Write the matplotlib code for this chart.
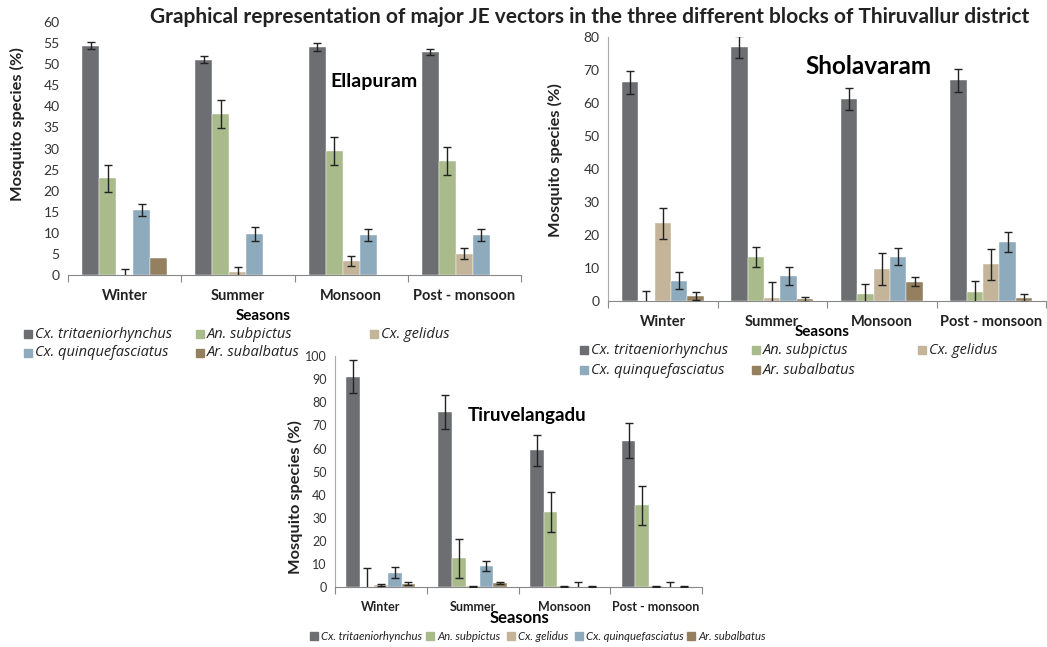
import matplotlib
matplotlib.use('Agg')
import matplotlib.pyplot as plt
import numpy as np
from matplotlib.patches import Rectangle

plt.rcParams['font.family'] = ['Lato', 'DejaVu Sans']

W, H = 1047, 647

seasons = ['Winter', 'Summer', 'Monsoon', 'Post - monsoon']
species = ['Cx. tritaeniorhynchus', 'An. subpictus', 'Cx. gelidus',
           'Cx. quinquefasciatus', 'Ar. subalbatus']
colors = ['#6d6e72', '#a9ba8b', '#c4b49a', '#8eaabd', '#94805e']

nan = np.nan

# Ellapuram
ella_ct = [54.4, 51.1, 54.1, 52.9]
ella_as = [23.0, 38.2, 29.4, 27.1]
ella_cg = [0.0, 0.6, 3.3, 5.0]
ella_cq = [15.4, 9.7, 9.5, 9.5]
ella_ar = [4.0, 0.0, 0.0, 0.0]
ella_ct_err = [0.8, 0.9, 1.0, 0.8]
ella_as_err = [3.2, 3.3, 3.3, 3.3]
ella_cg_err = [1.4, 1.4, 1.1, 1.3]
ella_cq_err = [1.5, 1.6, 1.5, 1.5]
ella_ar_err = [nan, nan, nan, nan]

# Sholavaram
shol_ct = [66.3, 77.0, 61.3, 66.9]
shol_as = [0.0, 13.4, 2.1, 2.7]
shol_cg = [23.6, 0.8, 9.8, 11.1]
shol_cq = [6.2, 7.5, 13.4, 17.9]
shol_ar = [1.5, 0.5, 5.8, 0.8]
shol_ct_err = [3.4, 3.3, 3.3, 3.4]
shol_as_err = [3.0, 3.0, 3.0, 3.3]
shol_cg_err = [4.7, 4.9, 4.8, 4.7]
shol_cq_err = [2.6, 2.7, 2.6, 2.9]
shol_ar_err = [1.3, 0.8, 1.4, 1.2]

# Tiruvelangadu
tiru_ct = [91.1, 75.9, 59.2, 63.4]
tiru_as = [0.0, 12.5, 32.6, 35.4]
tiru_cg = [1.0, 0.4, 0.4, 0.4]
tiru_cq = [6.3, 9.2, 0.0, 0.0]
tiru_ar = [1.6, 2.0, 0.3, 0.3]
tiru_ct_err = [7.3, 7.4, 6.8, 7.5]
tiru_as_err = [8.5, 8.4, 8.7, 8.6]
tiru_cg_err = [0.4, 0.2, 0.1, 0.1]
tiru_cq_err = [2.4, 2.2, 2.4, 2.4]
tiru_ar_err = [0.6, 0.5, 0.1, 0.1]


def fx(x):
    return x / W


def fy(y):
    return 1 - y / H


def draw_panel(ax, values, errors, ymax, ystep, show_left, tick_fs, label_fs):
    x = np.arange(len(seasons))
    w = 0.15
    for i, (vals, errs) in enumerate(zip(values, errors)):
        xs = x + (i - 2) * w
        ax.bar(xs, vals, w, color=colors[i], edgecolor='white', linewidth=0.3, zorder=2)
        ax.errorbar(xs, vals, yerr=errs, fmt='none', ecolor='#222222',
                    elinewidth=1.0, capsize=3, capthick=1.0, zorder=3)
    ax.set_xlim(-0.5, len(seasons) - 0.5)
    ax.set_ylim(0, ymax)
    ax.set_yticks(np.arange(0, ymax + 0.1, ystep))
    ax.tick_params(axis='y', length=0, labelsize=tick_fs, colors='#333333', pad=6)
    ax.set_xticks(np.arange(len(seasons) + 1) - 0.5)
    ax.set_xticklabels([])
    ax.tick_params(axis='x', which='major', length=5, color='#888888', direction='out')
    ax.set_xticks(x, minor=True)
    ax.set_xticklabels(seasons, minor=True, fontweight='bold',
                       fontsize=label_fs, color='#222222')
    ax.tick_params(axis='x', which='minor', length=0, pad=10)
    for s in ['top', 'right']:
        ax.spines[s].set_visible(False)
    ax.spines['bottom'].set_color('#888888')
    ax.spines['left'].set_color('#aaaaaa')
    ax.spines['left'].set_visible(show_left)


def draw_legend(fig, items, fontsize, family):
    for (sx, sy), idx in items:
        fig.add_artist(Rectangle((fx(sx), fy(sy + 4)), 8 / W, 8 / H,
                                 transform=fig.transFigure, color=colors[idx]))
        fig.text(fx(sx + 11), fy(sy), species[idx], fontsize=fontsize, style='italic',
                 family=family, va='center', ha='left', color='#222222')


fig = plt.figure(figsize=(W / 100, H / 100), dpi=100)

# Ellapuram
ax1 = fig.add_axes([fx(68), fy(275), fx(521 - 68), (275 - 22) / H])
draw_panel(ax1, [ella_ct, ella_as, ella_cg, ella_cq, ella_ar],
           [ella_ct_err, ella_as_err, ella_cg_err, ella_cq_err, ella_ar_err],
           60, 5, False, 10, 10.5)

# Sholavaram
ax2 = fig.add_axes([fx(608), fy(301), fx(1046 - 608), (301 - 37.3) / H])
draw_panel(ax2, [shol_ct, shol_as, shol_cg, shol_cq, shol_ar],
           [shol_ct_err, shol_as_err, shol_cg_err, shol_cq_err, shol_ar_err],
           80, 10, True, 10, 10.5)

# Tiruvelangadu
ax3 = fig.add_axes([fx(335), fy(587.3), fx(702 - 335), (587.3 - 356) / H])
draw_panel(ax3, [tiru_ct, tiru_as, tiru_cg, tiru_cq, tiru_ar],
           [tiru_ct_err, tiru_as_err, tiru_cg_err, tiru_cq_err, tiru_ar_err],
           100, 10, True, 9, 9)

# title and labels
fig.text(fx(590), fy(17), 'Graphical representation of major JE vectors in the three different blocks of Thiruvallur district',
         ha='center', va='center', fontsize=15, fontweight='bold', color='#222222')
fig.text(fx(374), fy(82), 'Ellapuram', ha='center', va='center', fontsize=14, fontweight='bold')
fig.text(fx(869), fy(67), 'Sholavaram', ha='center', va='center', fontsize=17.5, fontweight='bold')
fig.text(fx(527), fy(416), 'Tiruvelangadu', ha='center', va='center', fontsize=13.5, fontweight='bold')

for x, y in [(17, 124), (555, 160), (295, 497)]:
    fig.text(fx(x), fy(y), 'Mosquito species (%)', rotation=90, ha='center', va='center',
             fontsize=11.8, fontweight='bold', color='#222222')

fig.text(fx(263), fy(316), 'Seasons', ha='center', va='center', fontsize=11, fontweight='bold')
fig.text(fx(822), fy(332), 'Seasons', ha='center', va='center', fontsize=11, fontweight='bold')
fig.text(fx(519), fy(618), 'Seasons', ha='center', va='center', fontsize=12, fontweight='bold')

draw_legend(fig, [((24, 334), 0), ((196, 334), 1), ((370, 334), 2),
                  ((24, 353), 3), ((196, 353), 4)], 10.5, 'Open Sans')
draw_legend(fig, [((580, 350), 0), ((752, 350), 1), ((918, 350), 2),
                  ((580, 370), 3), ((752, 370), 4)], 10.5, 'Open Sans')
draw_legend(fig, [((310, 636), 0), ((426, 636), 1), ((507, 636), 2),
                  ((575, 636), 3), ((687, 636), 4)], 8.2, 'Lato')

fig.savefig('out.png', dpi=100)
